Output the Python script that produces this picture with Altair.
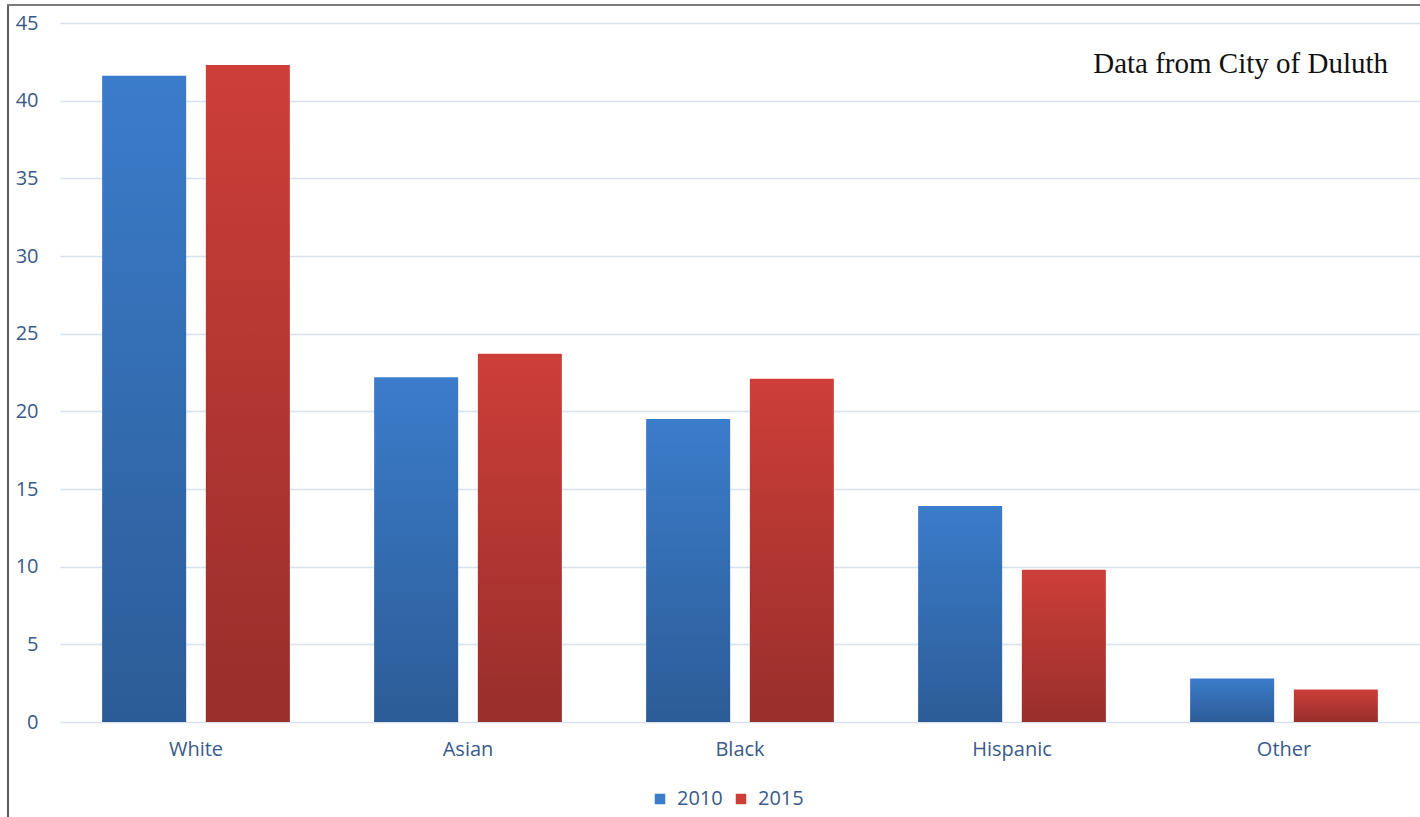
import altair as alt
import pandas as pd

categories = ["White", "Asian", "Black", "Hispanic", "Other"]
years = ["2010", "2015"]
values_2010 = [41.6, 22.2, 19.5, 13.9, 2.8]
values_2015 = [42.3, 23.7, 22.1, 9.8, 2.1]

rows = []
for c, v in zip(categories, values_2010):
    rows.append({"Category": c, "Year": "2010", "Value": v})
for c, v in zip(categories, values_2015):
    rows.append({"Category": c, "Year": "2015", "Value": v})
df = pd.DataFrame(rows)

LABEL = "#3A5A88"
FONT = "Open Sans"
FS = 20

x_enc = alt.X("Category:N", sort=categories,
              scale=alt.Scale(paddingInner=0.31, paddingOuter=0.155),
              axis=alt.Axis(title=None, labelAngle=0, ticks=False, domain=False,
                            labelPadding=17, labelFontSize=FS, labelColor=LABEL,
                            labelFont=FONT, grid=False))
xoff = alt.XOffset("Year:N", sort=years,
                   scale=alt.Scale(paddingInner=0.19, paddingOuter=0))
y_enc = alt.Y("Value:Q", scale=alt.Scale(domain=[0, 45], nice=False),
              axis=alt.Axis(title=None, values=list(range(0, 50, 5)), ticks=False,
                            domain=False, labelPadding=22, labelFontSize=FS,
                            labelColor=LABEL, labelFont=FONT, gridColor="#D6E2F0",
                            gridWidth=1.3))

base = alt.Chart(df).mark_bar().encode(
    x=x_enc, xOffset=xoff, y=y_enc,
    color=alt.Color("Year:N", sort=years,
                    scale=alt.Scale(domain=years, range=["#3B7CCB", "#CD3E39"]),
                    legend=alt.Legend(title=None, orient="none", direction="horizontal",
                                      legendX=590, legendY=766, symbolType="square",
                                      symbolSize=110, symbolStrokeWidth=0,
                                      labelFontSize=FS, labelColor=LABEL, labelFont=FONT,
                                      labelOffset=7, columnPadding=8)),
)

shade = alt.Chart(df).mark_bar(
    fill=alt.Gradient(gradient="linear",
                      stops=[alt.GradientStop(color="rgba(0,0,0,0)", offset=0),
                             alt.GradientStop(color="rgba(0,0,0,0.26)", offset=1)],
                      x1=0, x2=0, y1=0, y2=1)
).encode(x=x_enc, xOffset=xoff, y=y_enc)

note = alt.Chart(pd.DataFrame({"t": ["Data from City of Duluth"]})).mark_text(
    font="Liberation Serif", fontSize=29, color="#111111", align="right", baseline="middle"
).encode(text="t:N", x=alt.value(1328), y=alt.value(41))

border_left = alt.Chart(pd.DataFrame({"a": [0]})).mark_rule(
    color="#5A5A5A", strokeWidth=2).encode(
    x=alt.value(-52), y=alt.value(-19), y2=alt.value(800))
border_top = alt.Chart(pd.DataFrame({"a": [0]})).mark_rule(
    color="#7A7A7A", strokeWidth=2).encode(
    x=alt.value(-53), x2=alt.value(1370), y=alt.value(-18))

chart = alt.layer(base, shade, note, border_left, border_top).properties(
    width=1360, height=699,
    padding={"left": 60, "top": 23, "right": 0, "bottom": 95},
    autosize=alt.AutoSizeParams(type="none"),
    background="white",
).configure_view(strokeWidth=0, stroke="transparent")

chart.save("out.html", embed_options={"renderer": "svg", "actions": False})
